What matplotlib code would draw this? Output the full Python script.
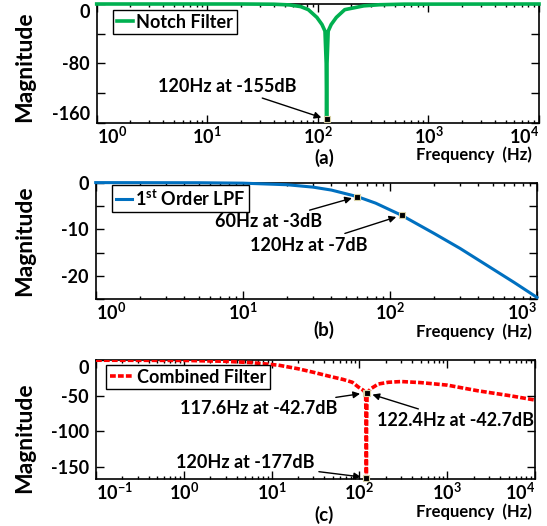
import numpy as np
import matplotlib
matplotlib.use('Agg')
import matplotlib.pyplot as plt
from matplotlib.ticker import LogLocator, NullFormatter

plt.rcParams['font.family'] = ['Lato', 'DejaVu Sans']
plt.rcParams['font.weight'] = 'bold'
plt.rcParams['mathtext.fontset'] = 'custom'
plt.rcParams['mathtext.rm'] = 'Lato:bold'
plt.rcParams['mathtext.bf'] = 'Lato:bold'
plt.rcParams['mathtext.it'] = 'Lato:bold'

# (a) notch filter
notch_f = [1, 20, 40, 55, 70, 82, 98, 109, 116, 119, 120, 121, 124, 132, 147, 175, 260, 360, 600, 10000]
notch_db = [0, 0, -0.3, -1.2, -3.5, -7.6, -18, -27.6, -36.5, -80, -155, -80, -36.5, -27.6, -18, -7.6, -2.5, -1.0, -0.2, 0]
notch_mark_f = [120]
notch_mark_db = [-155]

# (b) first order low pass
lpf_f = [1, 5, 10, 20, 30, 40, 60, 80, 120, 200, 300, 500, 700, 1000]
lpf_db = [0, -0.03, -0.12, -0.46, -0.97, -1.6, -3.0, -4.4, -7.0, -10.9, -14.1, -18.5, -21.4, -24.6]
lpf_mark_f = [60, 120]
lpf_mark_db = [-3, -7]

# (c) combined filter
comb_f = [0.1, 1, 3, 6, 12, 20, 30, 47, 65, 83, 98, 110, 117.6, 119.3, 120,
          120.7, 122.4, 135, 164, 214, 300, 500, 1000, 2240, 5250, 10000]
comb_db = [0, -0.3, -1.5, -3.5, -7, -12, -17, -23, -27, -31, -38, -42, -46, -90, -177,
           -90, -46, -40, -33.5, -31, -30, -31.5, -35, -43, -50, -56]
comb_mark_f = [117.6, 122.4, 120]
comb_mark_db = [-46, -46, -165]

fig = plt.figure(figsize=(5.47, 5.26), dpi=100)
W, H = 547.0, 526.0


def make_axes(l, r, t, b):
    return fig.add_axes([l / W, 1 - b / H, (r - l) / W, (b - t) / H])


def style(ax, xt, xl):
    ax.set_xscale('log')
    ax.set_xticks(xt, xl)
    ax.xaxis.set_minor_locator(LogLocator(base=10, subs=np.arange(2, 10), numticks=60))
    ax.xaxis.set_minor_formatter(NullFormatter())
    ax.tick_params(which='both', direction='in', top=True, right=True, width=1.0)
    ax.tick_params(which='major', length=5.5, labelsize=13)
    ax.tick_params(which='minor', length=2.5)
    ax.tick_params(axis='y', which='major', pad=5)
    ax.tick_params(axis='x', which='major', pad=2)
    for s in ax.spines.values():
        s.set_linewidth(1.2)
    labs = ax.get_xticklabels()
    labs[0].set_ha('left')
    labs[-1].set_ha('right')


mark = dict(ls='none', marker='s', ms=5, mfc='black', mec='#d9d2a6', mew=0.8, zorder=5, clip_on=False)
arrow = dict(arrowstyle='-|>', color='black', lw=1.0, mutation_scale=10, shrinkA=1, shrinkB=4)
afs = 13
lfs = 13

# ---------- (a)
ax1 = make_axes(96.7, 539, 4, 123)
ax1.plot(notch_f, notch_db, color='#00b050', lw=2.6, zorder=3, clip_on=False, label='Notch Filter')
ax1.plot(notch_mark_f, notch_mark_db, **mark)
ax1.set_xlim(1, 1e4)
ax1.set_ylim(-160, 0)
ax1.set_yticks([0, -40, -80, -120, -160], ['0', '', '-80', '', '-160'])
style(ax1, [1, 10, 100, 1000, 10000],
      [r'$\mathbf{10^{0}}$', r'$\mathbf{10^{1}}$', r'$\mathbf{10^{2}}$', r'$\mathbf{10^{3}}$', r'$\mathbf{10^{4}}$'])
yl = ax1.get_yticklabels()
yl[0].set_va('top')
yl[-1].set_va('bottom')
ax1.annotate('120Hz at -155dB', xy=(120, -155), xytext=(63.5, -110.7), ha='right', va='center',
             fontsize=afs, arrowprops=arrow)
ax1.legend(loc='upper left', bbox_to_anchor=(113 / W, 1 - 10 / H), bbox_transform=fig.transFigure,
           fontsize=lfs, handlelength=0.9, handletextpad=0.2, borderpad=0.2, borderaxespad=0,
           fancybox=False, edgecolor='black', framealpha=1).get_frame().set_linewidth(1.0)

# ---------- (b)
ax2 = make_axes(95.7, 537, 182.6, 299.3)
ax2.plot(lpf_f, lpf_db, color='#0070c0', lw=2.2, zorder=3, clip_on=False, label=r'1$^{\mathbf{st}}$ Order LPF')
ax2.plot(lpf_mark_f, lpf_mark_db, **mark)
ax2.set_xlim(1, 1000)
ax2.set_ylim(-25, 0)
ax2.set_yticks([0, -5, -10, -15, -20, -25], ['0', '', '-10', '', '-20', ''])
style(ax2, [1, 10, 100, 1000],
      [r'$\mathbf{10^{0}}$', r'$\mathbf{10^{1}}$', r'$\mathbf{10^{2}}$', r'$\mathbf{10^{3}}$'])
ax2.annotate('60Hz at -3dB', xy=(60, -3), xytext=(34.6, -8.4), ha='right', va='center',
             fontsize=afs, arrowprops=arrow)
ax2.annotate('120Hz at -7dB', xy=(120, -7), xytext=(70, -13.4), ha='right', va='center',
             fontsize=afs, arrowprops=arrow)
ax2.legend(loc='upper left', bbox_to_anchor=(112 / W, 1 - 185 / H), bbox_transform=fig.transFigure,
           fontsize=lfs, handlelength=0.9, handletextpad=0.2, borderpad=0.2, borderaxespad=0,
           fancybox=False, edgecolor='black', framealpha=1).get_frame().set_linewidth(1.0)

# ---------- (c)
ax3 = make_axes(96, 535, 359.5, 479)
ax3.plot(comb_f, comb_db, color='#ff0000', lw=2.6, ls=(0, (1.6, 0.6)), zorder=3, label='Combined Filter')
ax3.plot(comb_mark_f, comb_mark_db, **mark)
ax3.set_xlim(0.1, 1e4)
ax3.set_ylim(-167, 1)
ax3.set_yticks([0, -50, -100, -150], ['0', '-50', '-100', '-150'])
style(ax3, [0.1, 1, 10, 100, 1000, 10000],
      [r'$\mathbf{10^{-1}}$', r'$\mathbf{10^{0}}$', r'$\mathbf{10^{1}}$', r'$\mathbf{10^{2}}$',
       r'$\mathbf{10^{3}}$', r'$\mathbf{10^{4}}$'])
ax3.get_yticklabels()[0].set_va('top')
ax3.annotate('117.6Hz at -42.7dB', xy=(117.6, -46), xytext=(56.5, -68.4), ha='right', va='center',
             fontsize=afs, arrowprops=arrow)
ax3.annotate('122.4Hz at -42.7dB', xy=(122.4, -46), xytext=(160, -73), ha='left', va='top',
             fontsize=afs, arrowprops=arrow)
ax3.annotate('120Hz at -177dB', xy=(120, -165), xytext=(31, -143.9), ha='right', va='center',
             fontsize=afs, arrowprops=arrow)
ax3.legend(loc='upper left', bbox_to_anchor=(106 / W, 1 - 365 / H), bbox_transform=fig.transFigure,
           fontsize=lfs, handlelength=1.3, handletextpad=0.2, borderpad=0.2, borderaxespad=0,
           fancybox=False, edgecolor='black', framealpha=1).get_frame().set_linewidth(1.0)

# labels around the panels
for yc in [67, 241, 438]:
    fig.text(25 / W, 1 - yc / H, 'Magnitude', rotation=90, ha='center', va='center', fontsize=16.5)
for yc, tag, yt in [(155, '(a)', 158), (332, '(b)', 330), (512, '(c)', 515)]:
    fig.text(474 / W, 1 - yc / H, 'Frequency  (Hz)', ha='center', va='center', fontsize=12)
    fig.text(324 / W, 1 - yt / H, tag, ha='center', va='center', fontsize=13.5)

fig.savefig('out.png', dpi=100)
